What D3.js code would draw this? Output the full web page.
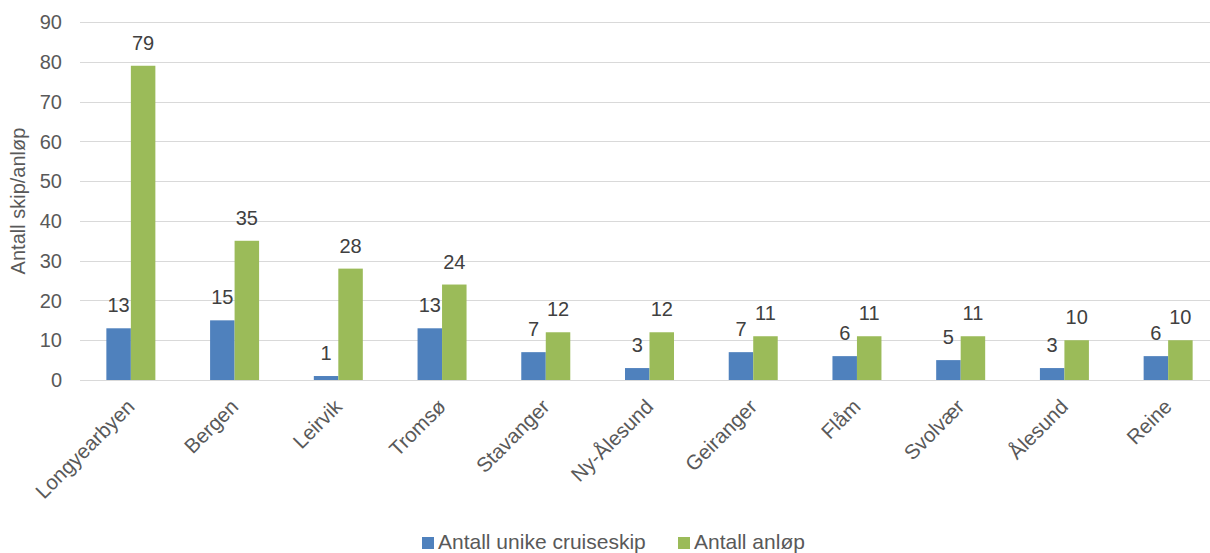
<!DOCTYPE html>
<html>
<head>
<meta charset="utf-8">
<script src="https://cdn.jsdelivr.net/npm/d3@7"></script>
<style>
  html, body { margin: 0; padding: 0; background: #fff; }
  svg { display: block; font-family: "Liberation Sans", Arial, sans-serif; }
</style>
</head>
<body>
<svg id="chart" width="1210" height="553"></svg>
<script>
// Cruise ports: number of unique ships and number of calls
const categories = ["Longyearbyen", "Bergen", "Leirvik", "Tromsø", "Stavanger", "Ny-Ålesund", "Geiranger", "Flåm", "Svolvær", "Ålesund", "Reine"];
const uniqueShips = [13, 15, 1, 13, 7, 3, 7, 6, 5, 3, 6];
const portCalls = [79, 35, 28, 24, 12, 12, 11, 11, 11, 10, 10];
const seriesNames = ["Antall unike cruiseskip", "Antall anløp"];
const seriesColors = ["#4f81bd", "#9bbb59"];
const yTicks = [0, 10, 20, 30, 40, 50, 60, 70, 80, 90];
const yTitle = "Antall skip/anløp";

const svg = d3.select("#chart");
const textColor = "#595959";

const x = d3.scaleBand().domain(categories).range([79, 1220]).paddingInner(0).paddingOuter(0);
const y = d3.scaleLinear().domain([0, 90]).range([380, 22]);
const barW = 24.5;

// Gridlines
svg.append("g").selectAll("line").data(yTicks).join("line")
  .attr("x1", 80).attr("x2", 1210)
  .attr("y1", d => Math.round(y(d)) + 0.5).attr("y2", d => Math.round(y(d)) + 0.5)
  .attr("stroke", "#d9d9d9").attr("stroke-width", 1);

// Y tick labels
svg.append("g").selectAll("text").data(yTicks).join("text")
  .attr("x", 62).attr("y", d => y(d))
  .attr("dy", "0.36em").attr("text-anchor", "end")
  .attr("font-size", 20).attr("fill", textColor)
  .text(d => d);

// Y axis title
svg.append("text")
  .attr("transform", `translate(25,${y(45)}) rotate(-90)`)
  .attr("text-anchor", "middle")
  .attr("font-size", 20).attr("fill", textColor)
  .text(yTitle);

const series = [uniqueShips, portCalls];
series.forEach((vals, si) => {
  const g = svg.append("g");
  const xOff = cat => x(cat) + x.bandwidth() / 2 - barW + si * barW;
  g.selectAll("rect").data(categories).join("rect")
    .attr("x", c => xOff(c))
    .attr("y", (c, i) => y(vals[i]))
    .attr("width", barW)
    .attr("height", (c, i) => y(0) - y(vals[i]))
    .attr("fill", seriesColors[si]);
  g.selectAll("text").data(categories).join("text")
    .attr("x", c => xOff(c) + barW / 2)
    .attr("y", (c, i) => y(vals[i]) - 16)
    .attr("text-anchor", "middle")
    .attr("font-size", 20).attr("fill", "#404040")
    .text((c, i) => vals[i]);
});

// Category labels, rotated
svg.append("g").selectAll("text").data(categories).join("text")
  .attr("transform", c => `translate(${x(c) + x.bandwidth() / 2 + 5},${408}) rotate(-45)`)
  .attr("text-anchor", "end")
  .attr("font-size", 20.5).attr("fill", textColor)
  .text(c => c);

// Legend
const legendItems = [{ x: 422, name: seriesNames[0], color: seriesColors[0] },
                     { x: 678, name: seriesNames[1], color: seriesColors[1] }];
const lg = svg.append("g");
legendItems.forEach(it => {
  lg.append("rect").attr("x", it.x).attr("y", 537).attr("width", 12).attr("height", 12).attr("fill", it.color);
  lg.append("text").attr("x", it.x + 16).attr("y", 549)
    .attr("font-size", 21).attr("fill", textColor).text(it.name);
});
</script>
</body>
</html>
